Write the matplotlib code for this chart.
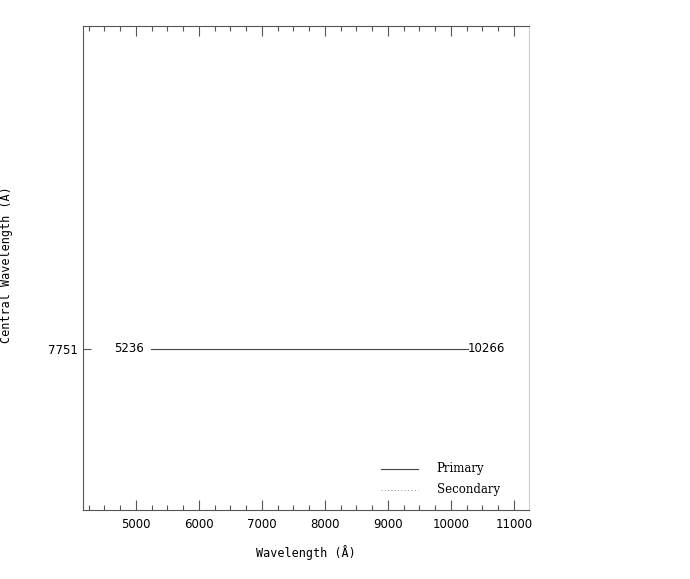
"""Wavelength coverage of the grating setting (PGPLOT-style layout)."""
import numpy as np
import matplotlib
matplotlib.use('Agg')
import matplotlib.pyplot as plt
from matplotlib.ticker import MultipleLocator

# coverage of each setting: central wavelength, blue and red ends
central = [7751]
blue_end = [5236]
red_end = [10266]

FRAME = '#555555'

fig = plt.figure(figsize=(6.9, 5.79), dpi=100)
ax = fig.add_axes([83 / 690, 1 - 510 / 579, 446 / 690, 484 / 579])

for c, lo, hi in zip(central, blue_end, red_end):
    ax.plot([lo, hi], [c, c], color='#444444', lw=0.8)
    ax.text(lo - 110, c, f"{lo}", ha='right', va='center', fontsize=8.5,
            family='DejaVu Sans')
    ax.text(hi, c, f"{hi}", ha='left', va='center', fontsize=8.5,
            family='DejaVu Sans')

ax.set_xlim(4160, 11240)
ax.set_ylim(central[0] - 1, central[0] + 2)
ax.set_yticks(central)
ax.set_yticklabels([str(c) for c in central])
ax.xaxis.set_major_locator(MultipleLocator(1000))
ax.xaxis.set_minor_locator(MultipleLocator(250))
ax.tick_params(axis='x', which='major', direction='in', length=7, width=0.8,
               color=FRAME, top=True, labelsize=8.5, pad=6)
ax.tick_params(axis='x', which='minor', direction='in', length=3.5, width=0.8,
               color=FRAME, top=True)
ax.tick_params(axis='y', which='major', direction='in', length=6, width=0.8,
               color=FRAME, labelsize=8.5, pad=4)
for sp in ax.spines.values():
    sp.set_color(FRAME)
    sp.set_linewidth(0.8)
ax.spines['right'].set_color('#cccccc')

ax.set_xlabel('Wavelength (Å)', family='DejaVu Sans Mono', fontsize=8.5,
              labelpad=10)
fig.text(6 / 690, 1 - 265 / 579, 'Central Wavelength (Å)', rotation=90,
         ha='center', va='center', family='DejaVu Sans Mono', fontsize=8.5)

# legend drawn by hand in axis fraction coordinates
ax.plot([0.668, 0.75], [0.085, 0.085], transform=ax.transAxes,
        color='#444444', lw=0.8)
ax.text(0.793, 0.085, 'Primary', transform=ax.transAxes, va='center',
        family='DejaVu Serif', fontsize=8.5)
ax.plot([0.668, 0.75], [0.042, 0.042], transform=ax.transAxes,
        color='#666666', lw=0.6, ls=(0, (1, 3)))
ax.text(0.793, 0.042, 'Secondary', transform=ax.transAxes, va='center',
        family='DejaVu Serif', fontsize=8.5)

fig.savefig('out.png', dpi=100)
